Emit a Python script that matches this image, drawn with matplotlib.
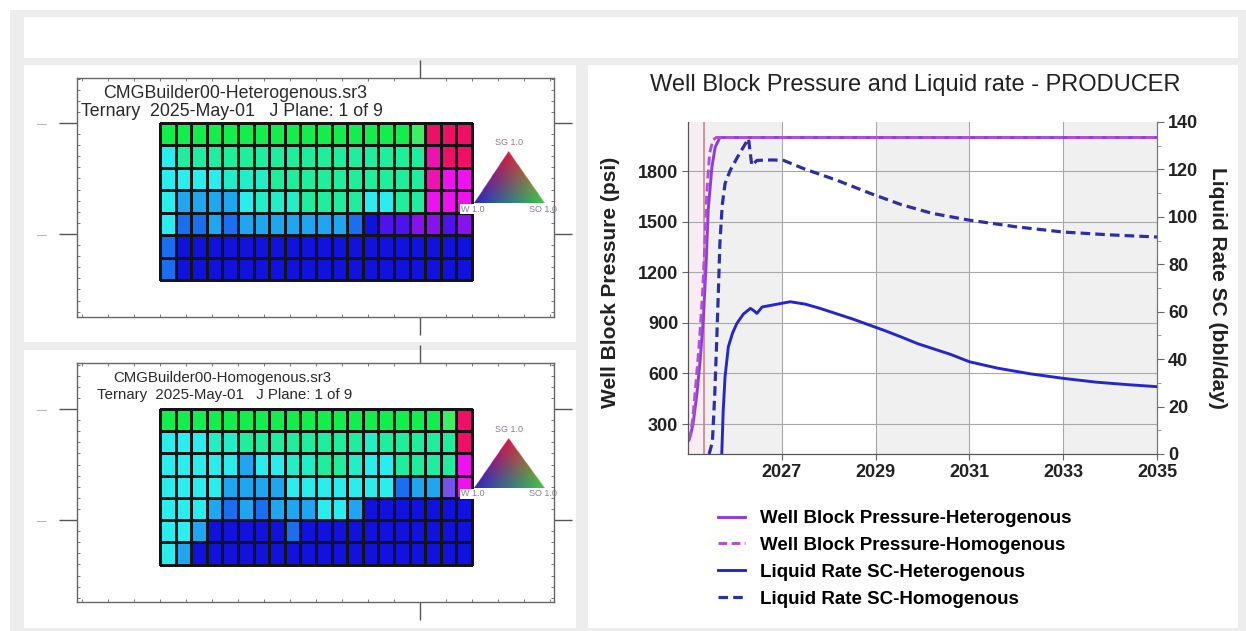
import matplotlib
matplotlib.use('Agg')
import matplotlib.pyplot as plt
from matplotlib.patches import Rectangle
from matplotlib.colors import ListedColormap, to_rgb
from matplotlib.lines import Line2D
import numpy as np

plt.rcParams['font.family'] = ['Liberation Sans', 'DejaVu Sans']

W, H = 1246, 631

# well block pressure, psi
p_het_year = [2025.02, 2025.06, 2025.11, 2025.19, 2025.26, 2025.33, 2025.39,
              2025.43, 2025.51, 2025.58, 2025.68, 2035.0]
p_het = [205, 240, 304, 482, 680, 936, 1272, 1568, 1825, 1943, 2000, 2000]
p_hom_year = [2025.02, 2025.06, 2025.10, 2025.17, 2025.24, 2025.31, 2025.36,
              2025.40, 2025.46, 2025.53, 2025.60, 2035.0]
p_hom = [205, 250, 330, 543, 778, 1075, 1371, 1667, 1905, 1984, 2000, 2000]

# liquid rate SC, bbl/day
q_het_year = [2025.72, 2025.75, 2025.79, 2025.86, 2025.95, 2026.04, 2026.18,
              2026.33, 2026.40, 2026.47, 2026.58, 2026.80, 2027.04, 2027.18,
              2027.50, 2027.80, 2028.50, 2029.20, 2029.54, 2029.90, 2030.60,
              2031.00, 2031.60, 2032.30, 2033.00, 2033.70, 2034.40, 2035.00]
q_het = [0, 18, 32.6, 45.2, 51, 55, 59, 61.4, 60.5, 59.3, 62, 62.8, 63.7, 64.2,
         63.2, 61.5, 57, 52, 49.4, 46.5, 42, 38.9, 36.2, 33.8, 31.9, 30.3, 29.2,
         28.4]
q_hom_year = [2025.45, 2025.52, 2025.57, 2025.61, 2025.65, 2025.68, 2025.73,
              2025.79, 2025.90, 2026.05, 2026.18, 2026.29, 2026.36, 2026.47,
              2026.80, 2027.04, 2027.47, 2028.18, 2028.90, 2029.54, 2030.20,
              2031.00, 2032.00, 2033.00, 2034.00, 2035.00]
q_hom = [0, 5, 25, 46.6, 70, 88.9, 105, 114, 119.6, 125, 129.4, 133, 121.7,
         123.8, 124, 123.8, 120.3, 115.4, 109.8, 105.2, 101.5, 98.6, 95.8, 93.6,
         92.4, 91.5]

start_year = 2025 + 4 / 12
year_ticks = [2027, 2029, 2031, 2033, 2035]
band_edges = [2025, 2027, 2029, 2031, 2033, 2035]
band_fill = ['#F0F0F0', 'white', '#F0F0F0', 'white', '#F0F0F0']
p_ticks = [300, 600, 900, 1200, 1500, 1800]
q_ticks = [0, 20, 40, 60, 80, 100, 120, 140]

series_names = ['Well Block Pressure-Heterogenous',
                'Well Block Pressure-Homogenous',
                'Liquid Rate SC-Heterogenous',
                'Liquid Rate SC-Homogenous']

# ternary saturation maps, J plane 1 (20 x 7 blocks)
cell_colors = {
    'G': '#12EE4C', 'g': '#3CF062', 'T': '#1EEE9E', 'A': '#22EEC8',
    'C': '#2AEEEE', 'L': '#1EA6F0', 'M': '#1C6EF0', 'B': '#1212DE',
    'P': '#4E12EE', 'V': '#8612EE', 'W': '#7452EE', 'R': '#EE1064',
    'K': '#EE12B0', 'F': '#EE12EE',
}
het_rows = [
    'GGGGGGGGGGGGGGGGgRRR',
    'CTTTTTTTTTTTTTTTTKRR',
    'CCCCAAATTTTTTTTTTKFF',
    'CLLLLCAAATTTTCCTTFFF',
    'CMMLMLLLLLLLMBPPVVPV',
    'MBBBBBBBBBBBBBBBBBBB',
    'MBBBBBBBBBBBBBBBBBBB',
]
hom_rows = [
    'GGGGGGGGGGGGGGGGGGgR',
    'CCCAATTTTTTTTATTTTTR',
    'CCCCCLCCAATTACCTTTTF',
    'CCCCLLLLCCCCCCCMLLWF',
    'CCCLMLMLLLCCLBBBBBBB',
    'CCLBBBBBMBBBBBBBBBBB',
    'CLBBBBBBBBBBBBBBBBBB',
]
het_title = ['CMGBuilder00-Heterogenous.sr3', 'Ternary  2025-May-01   J Plane: 1 of 9']
hom_title = ['CMGBuilder00-Homogenous.sr3', 'Ternary  2025-May-01   J Plane: 1 of 9']


def fbox(x0, y0, x1, y1):
    return [x0 / W, 1 - y1 / H, (x1 - x0) / W, (y1 - y0) / H]


def fpt(x, y):
    return x / W, 1 - y / H


def panel(x0, y0, x1, y1, color):
    fig.add_artist(Rectangle(fpt(x0, y1), (x1 - x0) / W, (y1 - y0) / H,
                             transform=fig.transFigure, facecolor=color,
                             edgecolor='none', zorder=-10))


fig = plt.figure(figsize=(W / 100, H / 100), dpi=100)
fig.patch.set_facecolor('white')

panel(10, 10, 1246, 631, '#EDEDED')
panel(24, 17, 1238, 58, 'white')
panel(24, 65, 576, 342, 'white')
panel(24, 350, 576, 628, 'white')
panel(588, 65, 1238, 628, 'white')

# ---------------- saturation map panels ----------------
codes = list(cell_colors)
cmap = ListedColormap([cell_colors[c] for c in codes])


def draw_frame(top, bottom, yticks):
    fax = fig.add_axes(fbox(77, top, 554, bottom))
    fax.set_facecolor('none')
    fax.set_xlim(77, 554)
    fax.set_ylim(bottom, top)
    fax.set_xticks([420])
    fax.set_xticklabels([])
    fax.set_yticks(yticks)
    fax.set_yticklabels(['—'] * len(yticks), fontsize=7, color='#A0A0A0')
    fax.set_xticks(np.arange(420 - 26 * 13, 554, 26), minor=True)
    fax.set_yticks(np.arange(yticks[0] - 11.1 * 4, bottom, 11.1), minor=True)
    fax.tick_params(which='major', direction='out', length=13, width=1,
                    color='#555555', top=True, right=True, pad=9)
    fax.tick_params(which='minor', direction='in', length=2.5, width=0.7,
                    color='#777777', top=True, right=True)
    for s in fax.spines.values():
        s.set_color('#666666')
        s.set_linewidth(1)


def draw_layer(top, bottom, rows):
    gax = fig.add_axes(fbox(160, top, 472, bottom))
    idx = np.array([[codes.index(ch) for ch in row] for row in rows])
    mesh = gax.pcolormesh(idx, cmap=cmap, vmin=-0.5, vmax=len(codes) - 0.5,
                          edgecolors='#141414', linewidth=1.0)
    mesh.set_clip_on(False)
    gax.set_xlim(0, idx.shape[1])
    gax.set_ylim(idx.shape[0], 0)
    gax.set_axis_off()


def draw_key(apex_y, base_y, size):
    kax = fig.add_axes(fbox(455, apex_y - 20, 565, base_y + 14))
    kax.set_axis_off()
    x0, x1, xa = 474, 545, 508.6
    n = 160
    X, Y = np.meshgrid(np.linspace(x0, x1, n), np.linspace(apex_y, base_y, n))
    sg = (Y - base_y) / (apex_y - base_y)
    sw = (x1 - X - sg * (x1 - xa)) / (x1 - x0)
    so = 1 - sg - sw
    red = np.array(to_rgb('#E0103C'))
    blue = np.array(to_rgb('#2020C8'))
    green = np.array(to_rgb('#34D040'))
    rgb = sg[..., None] * red + sw[..., None] * blue + so[..., None] * green
    inside = (sg >= 0) & (sw >= 0) & (so >= 0)
    # speckled look of the colour key
    dots = ((np.arange(n)[:, None] + np.arange(n)[None, :]) % 7 < 2)
    rgb = np.where(dots[..., None], rgb * 0.75 + 0.15, rgb)
    img = np.dstack([np.clip(rgb, 0, 1), inside.astype(float)])
    kax.imshow(img, extent=(x0, x1, base_y, apex_y), origin='upper',
               aspect='auto', interpolation='bilinear')
    kax.set_xlim(455, 565)
    kax.set_ylim(base_y + 14, apex_y - 20)
    kw = dict(fontsize=size, color='#8A7A9C', ha='center', va='center')
    kax.text(xa, apex_y - 9, 'SG 1.0', **kw)
    kax.text(473, base_y + 6, 'W 1.0',
             bbox=dict(facecolor='white', edgecolor='none', pad=0.6), **kw)
    kax.text(543, base_y + 6, 'SO 1.0', **kw)


draw_frame(78, 317, [123, 234])
draw_layer(123, 280, het_rows)
draw_key(151.7, 203, 6.5)
fig.text(*fpt(103, 93), het_title[0], fontsize=12.8, color='#2A2A2A', va='center')
fig.text(*fpt(81, 112), het_title[1], fontsize=12.8, color='#2A2A2A', va='center')

draw_frame(363, 602, [409, 520])
draw_layer(408.7, 564.7, hom_rows)
draw_key(438, 488, 6.5)
fig.text(*fpt(113, 378), hom_title[0], fontsize=10.8, color='#2A2A2A', va='center')
fig.text(*fpt(97, 395), hom_title[1], fontsize=10.8, color='#2A2A2A', va='center')

# ---------------- producer well plot ----------------
ax = fig.add_axes(fbox(688, 122, 1157, 454))
ax.set_facecolor('none')
ax.set_xlim(2025, 2035)
ax.set_ylim(122, 2092)
for a, b, c in zip(band_edges[:-1], band_edges[1:], band_fill):
    ax.axvspan(a, b, facecolor=c, lw=0, zorder=0)
ax.axvspan(2025, start_year, facecolor='#F7EDF3', lw=0, zorder=0)
ax.set_axisbelow(True)
ax.grid(True, color='#A8A8A8', lw=0.8)
ax.axvline(start_year, color='#D48A96', lw=1.3, zorder=2)

ax.set_xticks(year_ticks, [str(y) for y in year_ticks], fontsize=13,
              fontweight='bold')
ax.set_yticks(p_ticks, [str(p) for p in p_ticks], fontsize=13,
              fontweight='bold')
ax.tick_params(axis='both', direction='out', length=4, width=0.8,
               color='#666666', labelcolor='#222222', pad=3)

ax.plot(p_het_year, p_het, color='#8E3BE6', lw=2.1, zorder=4)
ax.plot(p_hom_year, p_hom, color='#B050D8', lw=2.1, dashes=(3, 1.5), zorder=4)

ax2 = ax.twinx()
ax2.set_ylim(0, 140)
ax2.set_yticks(q_ticks, [str(q) for q in q_ticks], fontsize=13,
               fontweight='bold')
ax2.set_yticks(np.arange(10, 140, 20), minor=True)
ax2.tick_params(axis='y', which='major', direction='out', length=5, width=0.8,
                color='#666666', labelcolor='#222222', pad=3)
ax2.tick_params(axis='y', which='minor', direction='out', length=3,
                width=0.6, color='#888888')
ax2.plot(q_het_year, q_het, color='#2626D0', lw=2.1, zorder=4)
ax2.plot(q_hom_year, q_hom, color='#2E2EA8', lw=2.3, dashes=(3, 1.6), zorder=4)

for a in (ax, ax2):
    a.spines['top'].set_visible(False)
    a.spines['left'].set_color('#555555')
    a.spines['bottom'].set_color('#555555')
    a.spines['right'].set_color('#777777')

fig.text(*fpt(915, 85), 'Well Block Pressure and Liquid rate - PRODUCER',
         fontsize=17, color='#222222', ha='center', va='center')
fig.text(*fpt(610, 282), 'Well Block Pressure (psi)', fontsize=15,
         fontweight='bold', color='#222222', rotation=90, ha='center',
         va='center')
fig.text(*fpt(1217, 288), 'Liquid Rate SC (bbl/day)', fontsize=15,
         fontweight='bold', color='#222222', rotation=270, ha='center',
         va='center')

handles = [
    Line2D([], [], color='#8E3BE6', lw=2.1),
    Line2D([], [], color='#B050D8', lw=2.1, dashes=(3, 1.5)),
    Line2D([], [], color='#2626D0', lw=2.1),
    Line2D([], [], color='#2E2EA8', lw=2.3, dashes=(3, 1.6)),
]
fig.legend(handles, series_names, loc='upper left', bbox_to_anchor=fpt(718, 510),
           frameon=False, prop={'weight': 'bold', 'size': 13.5},
           handlelength=1.45, handletextpad=0.8, labelspacing=0.52,
           borderpad=0, borderaxespad=0)

fig.savefig('out.png', dpi=100)
